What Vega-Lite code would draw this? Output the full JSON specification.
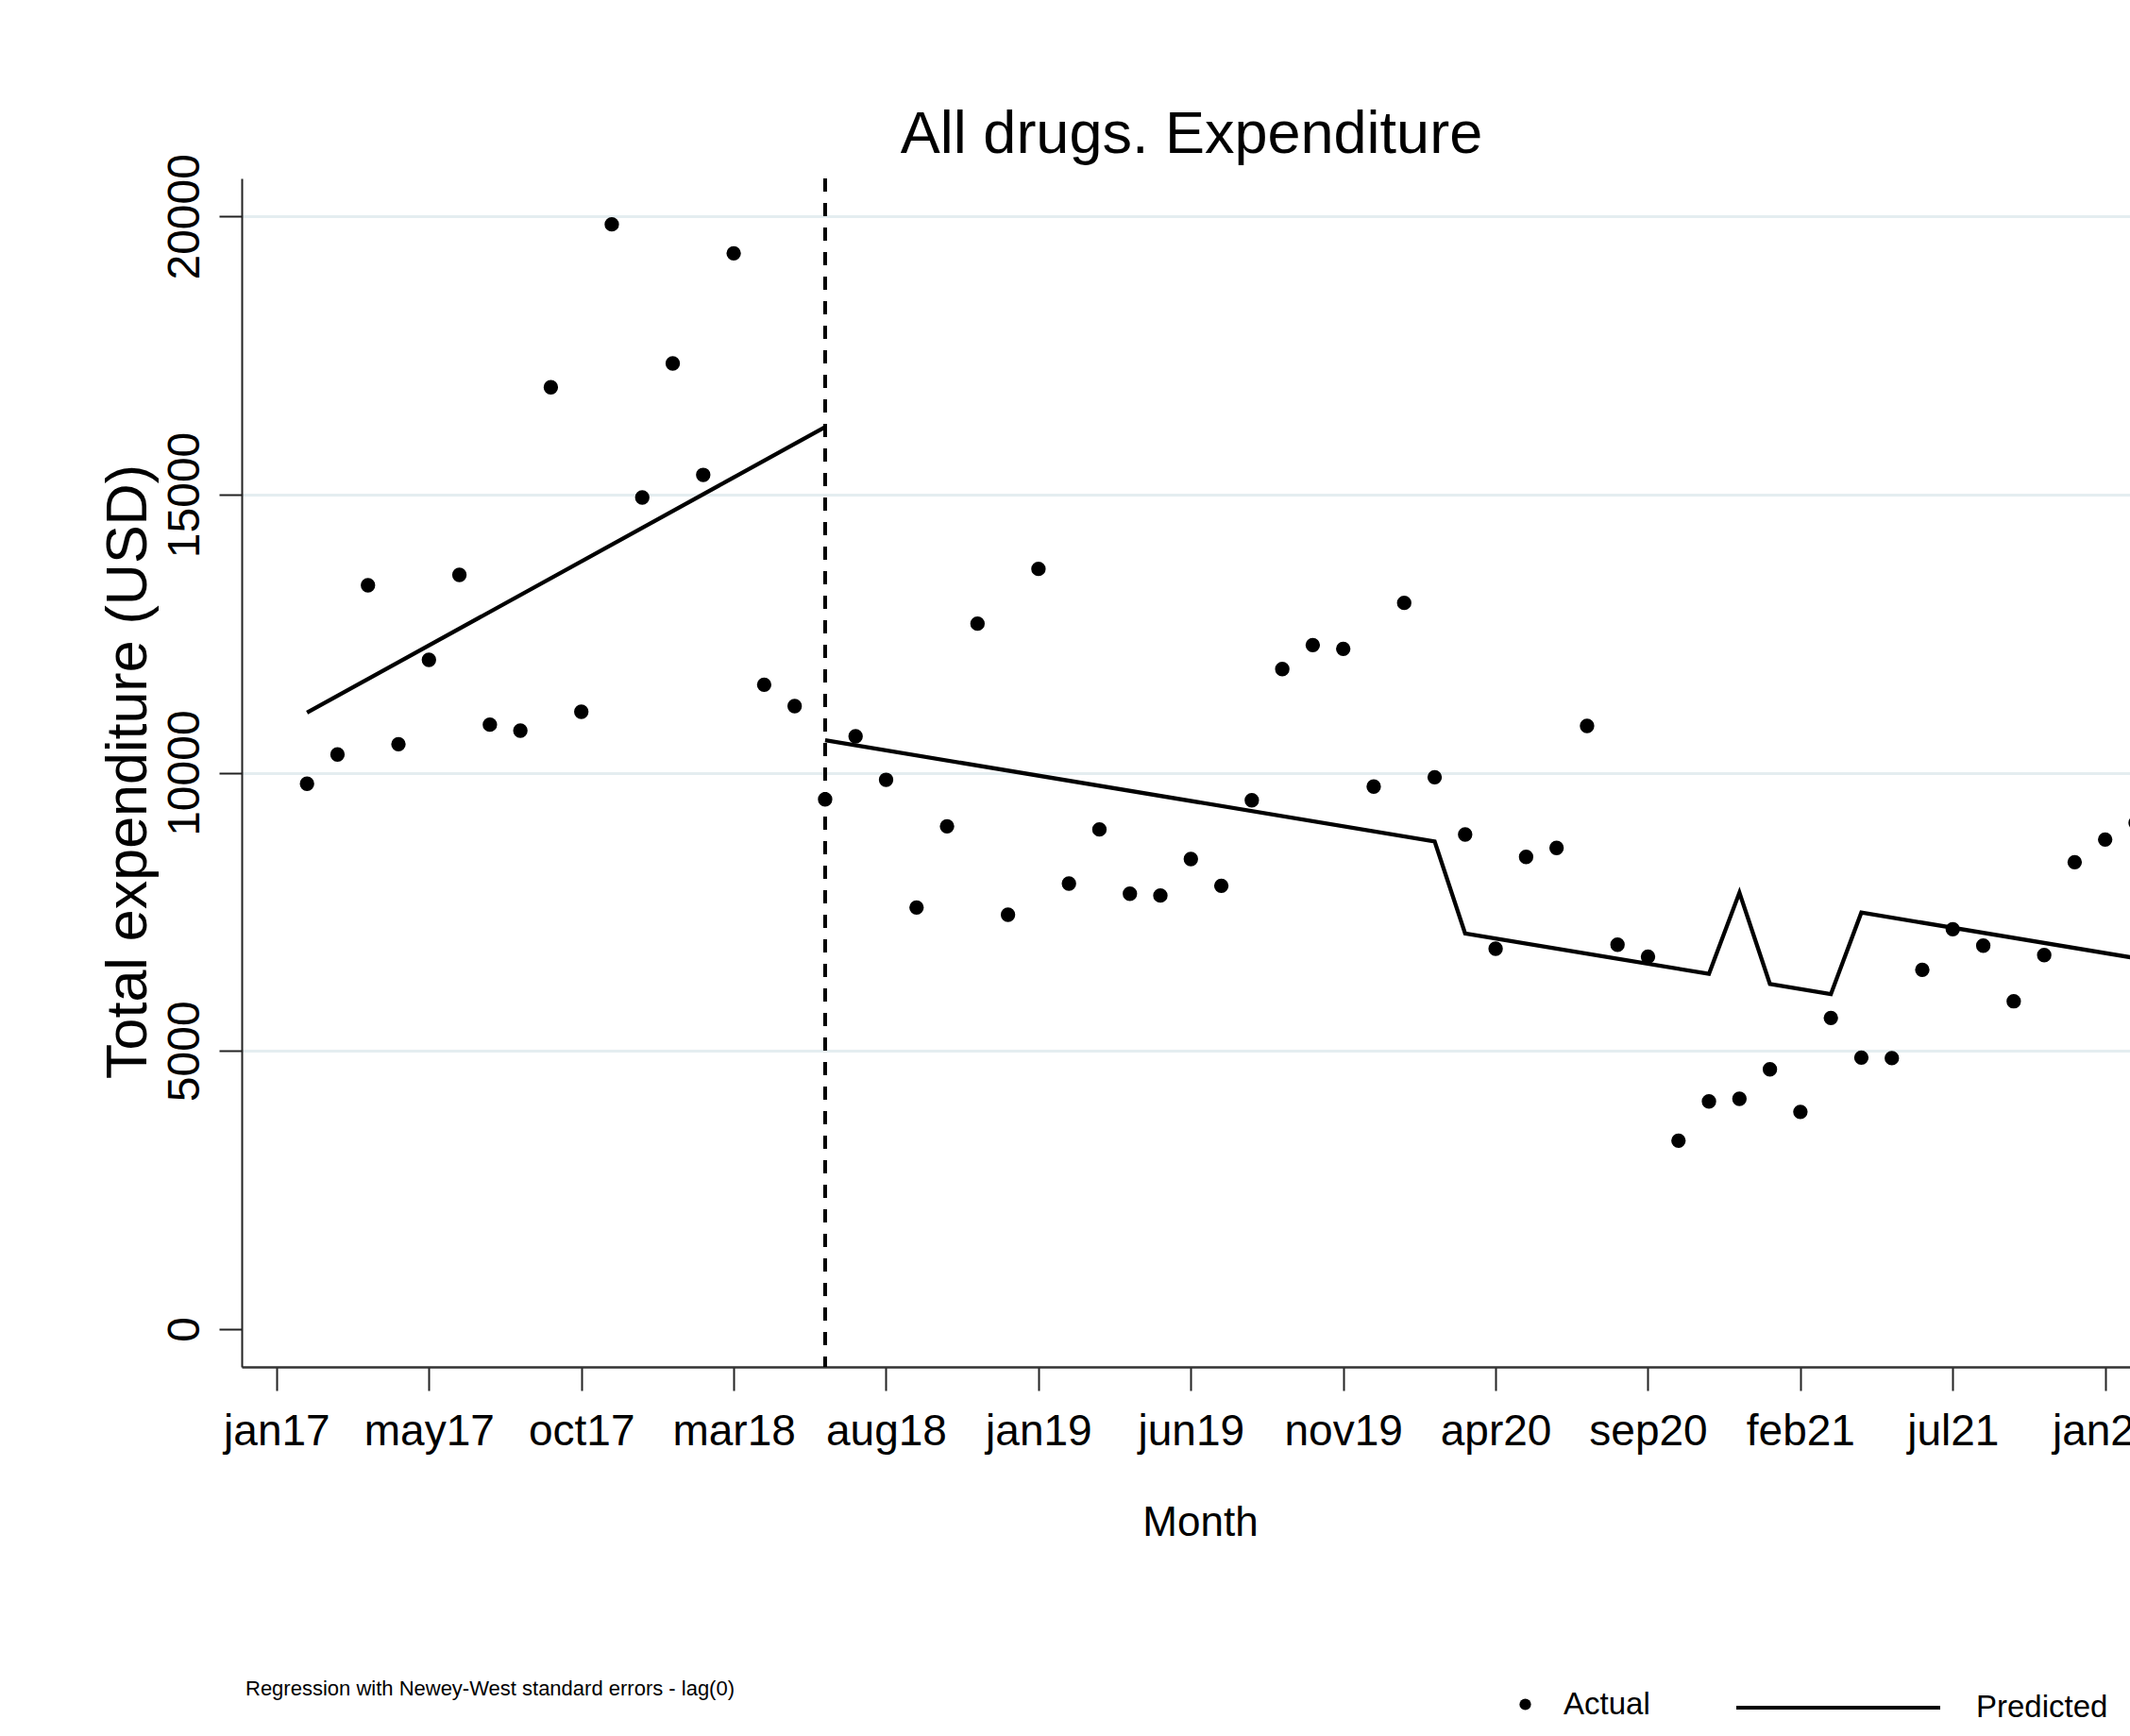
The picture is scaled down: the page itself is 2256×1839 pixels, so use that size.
{
  "$schema": "https://vega.github.io/schema/vega-lite/v6.json",
  "autosize": {"type": "none"},
  "width": 2000,
  "height": 1259,
  "padding": {"left": 256, "top": 189, "right": 0, "bottom": 391},
  "background": "white",
  "config": {"view": {"stroke": null}, "font": "Liberation Sans"},
  "title": {
    "text": "All drugs. Expenditure",
    "font": "Liberation Sans",
    "fontSize": 63,
    "fontWeight": "normal",
    "color": "#000000",
    "anchor": "middle",
    "frame": "group",
    "baseline": "alphabetic",
    "offset": 26,
    "dx": 6,
    "dy": 88
  },
  "datasets": {
    "intervention": [{"t": 18}],
    "actual": [
      {"t": 1, "expenditure": 9803, "series": "Actual"},
      {"t": 2, "expenditure": 10329, "series": "Actual"},
      {"t": 3, "expenditure": 13370, "series": "Actual"},
      {"t": 4, "expenditure": 10514, "series": "Actual"},
      {"t": 5, "expenditure": 12030, "series": "Actual"},
      {"t": 6, "expenditure": 13557, "series": "Actual"},
      {"t": 7, "expenditure": 10864, "series": "Actual"},
      {"t": 8, "expenditure": 10757, "series": "Actual"},
      {"t": 9, "expenditure": 16929, "series": "Actual"},
      {"t": 10, "expenditure": 11096, "series": "Actual"},
      {"t": 11, "expenditure": 19858, "series": "Actual"},
      {"t": 12, "expenditure": 14948, "series": "Actual"},
      {"t": 13, "expenditure": 17358, "series": "Actual"},
      {"t": 14, "expenditure": 15355, "series": "Actual"},
      {"t": 15, "expenditure": 19338, "series": "Actual"},
      {"t": 16, "expenditure": 11583, "series": "Actual"},
      {"t": 17, "expenditure": 11198, "series": "Actual"},
      {"t": 18, "expenditure": 9523, "series": "Actual"},
      {"t": 19, "expenditure": 10655, "series": "Actual"},
      {"t": 20, "expenditure": 9874, "series": "Actual"},
      {"t": 21, "expenditure": 7578, "series": "Actual"},
      {"t": 22, "expenditure": 9038, "series": "Actual"},
      {"t": 23, "expenditure": 12680, "series": "Actual"},
      {"t": 24, "expenditure": 7448, "series": "Actual"},
      {"t": 25, "expenditure": 13664, "series": "Actual"},
      {"t": 26, "expenditure": 8008, "series": "Actual"},
      {"t": 27, "expenditure": 8981, "series": "Actual"},
      {"t": 28, "expenditure": 7826, "series": "Actual"},
      {"t": 29, "expenditure": 7793, "series": "Actual"},
      {"t": 30, "expenditure": 8449, "series": "Actual"},
      {"t": 31, "expenditure": 7969, "series": "Actual"},
      {"t": 32, "expenditure": 9506, "series": "Actual"},
      {"t": 33, "expenditure": 11865, "series": "Actual"},
      {"t": 34, "expenditure": 12296, "series": "Actual"},
      {"t": 35, "expenditure": 12228, "series": "Actual"},
      {"t": 36, "expenditure": 9751, "series": "Actual"},
      {"t": 37, "expenditure": 13053, "series": "Actual"},
      {"t": 38, "expenditure": 9920, "series": "Actual"},
      {"t": 39, "expenditure": 8890, "series": "Actual"},
      {"t": 40, "expenditure": 6837, "series": "Actual"},
      {"t": 41, "expenditure": 8488, "series": "Actual"},
      {"t": 42, "expenditure": 8648, "series": "Actual"},
      {"t": 43, "expenditure": 10842, "series": "Actual"},
      {"t": 44, "expenditure": 6910, "series": "Actual"},
      {"t": 45, "expenditure": 6696, "series": "Actual"},
      {"t": 46, "expenditure": 3387, "series": "Actual"},
      {"t": 47, "expenditure": 4093, "series": "Actual"},
      {"t": 48, "expenditure": 4139, "series": "Actual"},
      {"t": 49, "expenditure": 4670, "series": "Actual"},
      {"t": 50, "expenditure": 3905, "series": "Actual"},
      {"t": 51, "expenditure": 5593, "series": "Actual"},
      {"t": 52, "expenditure": 4880, "series": "Actual"},
      {"t": 53, "expenditure": 4870, "series": "Actual"},
      {"t": 54, "expenditure": 6458, "series": "Actual"},
      {"t": 55, "expenditure": 7188, "series": "Actual"},
      {"t": 56, "expenditure": 6893, "series": "Actual"},
      {"t": 57, "expenditure": 5892, "series": "Actual"},
      {"t": 58, "expenditure": 6723, "series": "Actual"},
      {"t": 59, "expenditure": 8393, "series": "Actual"},
      {"t": 60, "expenditure": 8800, "series": "Actual"},
      {"t": 61, "expenditure": 9100, "series": "Actual"}
    ],
    "predicted": [
      {"t": 1, "expenditure": 11080, "segment": "pre", "fit": "Predicted"},
      {"t": 18, "expenditure": 16215, "segment": "pre", "fit": "Predicted"},
      {"t": 18, "expenditure": 10585, "segment": "post", "fit": "Predicted"},
      {"t": 38, "expenditure": 8765, "segment": "post", "fit": "Predicted"},
      {"t": 39, "expenditure": 7110, "segment": "post", "fit": "Predicted"},
      {"t": 47, "expenditure": 6385, "segment": "post", "fit": "Predicted"},
      {"t": 48, "expenditure": 7845, "segment": "post", "fit": "Predicted"},
      {"t": 49, "expenditure": 6204, "segment": "post", "fit": "Predicted"},
      {"t": 51, "expenditure": 6020, "segment": "post", "fit": "Predicted"},
      {"t": 52, "expenditure": 7487, "segment": "post", "fit": "Predicted"},
      {"t": 61, "expenditure": 6668, "segment": "post", "fit": "Predicted"}
    ]
  },
  "encoding": {
    "x": {
      "field": "t",
      "type": "quantitative",
      "scale": {"domain": [-1.143, 60.815], "nice": false, "zero": false},
      "axis": {
        "values": [0, 5, 10, 15, 20, 25, 30, 35, 40, 45, 50, 55, 60],
        "labelExpr": "['jan17','may17','oct17','mar18','aug18','jan19','jun19','nov19','apr20','sep20','feb21','jul21','jan22'][round(datum.value/5)]",
        "labelFont": "Liberation Sans",
        "labelFontSize": 46,
        "labelColor": "#000000",
        "labelPadding": 21,
        "labelFlush": false,
        "labelOverlap": false,
        "labelBound": false,
        "tickSize": 25,
        "tickWidth": 2,
        "tickColor": "#222222",
        "domainColor": "#333333",
        "domainWidth": 2.5,
        "grid": false,
        "title": "Month",
        "titleFont": "Liberation Sans",
        "titleFontSize": 44,
        "titleFontWeight": "normal",
        "titleColor": "#000000",
        "titleAlign": "center",
        "titleBaseline": "alphabetic",
        "titleX": 1015,
        "titleY": 178
      }
    }
  },
  "layer": [
    {
      "data": {"name": "intervention"},
      "mark": {"type": "rule", "strokeDash": [14, 12], "strokeWidth": 4, "color": "#000000"}
    },
    {
      "data": {"name": "predicted"},
      "mark": {"type": "line", "strokeWidth": 4.3, "strokeJoin": "miter"},
      "encoding": {
        "y": {
          "field": "expenditure",
          "type": "quantitative",
          "scale": {"domain": [-680, 20684], "nice": false, "zero": false},
          "axis": {
            "values": [0, 5000, 10000, 15000, 20000],
            "format": "d",
            "labelAngle": 270,
            "labelAlign": "center",
            "labelBaseline": "alphabetic",
            "labelPadding": 22,
            "labelFont": "Liberation Sans",
            "labelFontSize": 48,
            "labelColor": "#000000",
            "labelOverlap": false,
            "labelFlush": false,
            "tickSize": 24,
            "tickWidth": 2,
            "tickColor": "#222222",
            "domainColor": "#222222",
            "domainWidth": 2,
            "grid": true,
            "gridColor": "#E4EDF0",
            "gridWidth": 3,
            "gridOpacity": {"condition": {"test": "datum.value === 0", "value": 0}, "value": 1},
            "title": "Total expenditure (USD)",
            "titleFont": "Liberation Sans",
            "titleFontSize": 61,
            "titleFontWeight": "normal",
            "titleColor": "#000000",
            "titleAngle": 270,
            "titleAlign": "center",
            "titleBaseline": "alphabetic",
            "titleX": -102,
            "titleY": 628
          }
        },
        "detail": {"field": "segment"},
        "color": {
          "field": "fit",
          "type": "nominal",
          "scale": {"domain": ["Predicted"], "range": ["#000000"]},
          "legend": {
            "orient": "none",
            "legendX": 1581,
            "legendY": 1510,
            "title": null,
            "padding": 0,
            "symbolType": "stroke",
            "symbolSize": 46656,
            "symbolStrokeWidth": 4,
            "symbolStrokeColor": "#000000",
            "labelFont": "Liberation Sans",
            "labelFontSize": 33,
            "labelColor": "#000000",
            "labelOffset": 36,
            "labelLimit": 400
          }
        }
      }
    },
    {
      "data": {"name": "actual"},
      "mark": {"type": "point", "filled": true, "size": 235, "opacity": 1, "color": "#000000"},
      "encoding": {
        "y": {
          "field": "expenditure",
          "type": "quantitative",
          "scale": {"domain": [-680, 20684], "nice": false, "zero": false}
        },
        "shape": {
          "field": "series",
          "type": "nominal",
          "scale": {"domain": ["Actual"], "range": ["circle"]},
          "legend": {
            "orient": "none",
            "legendX": 4,
            "legendY": 1600,
            "padding": 0,
            "title": "Regression with Newey-West standard errors - lag(0)",
            "titleOrient": "left",
            "titleAnchor": "start",
            "titleBaseline": "middle",
            "titleFont": "Liberation Sans",
            "titleFontSize": 22,
            "titleFontWeight": "normal",
            "titleColor": "#000000",
            "titleLimit": 2000,
            "titlePadding": 821,
            "symbolSize": 150,
            "symbolFillColor": "#000000",
            "symbolStrokeWidth": 0,
            "labelFont": "Liberation Sans",
            "labelFontSize": 33,
            "labelColor": "#000000",
            "labelOffset": 24,
            "labelLimit": 400
          }
        }
      }
    }
  ]
}
